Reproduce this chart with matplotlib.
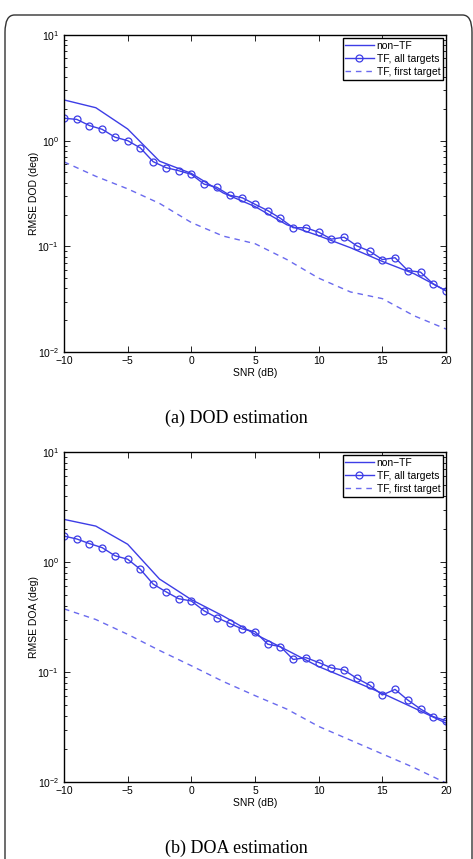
import matplotlib
matplotlib.use("Agg")
import matplotlib.pyplot as plt
from matplotlib.patches import FancyBboxPatch
import matplotlib.ticker as mticker
import numpy as np

plt.rcParams['font.family'] = ['Liberation Sans', 'DejaVu Sans']
plt.rcParams['mathtext.fontset'] = 'custom'
plt.rcParams['mathtext.rm'] = 'Liberation Sans'

# ---- data ----
snr_coarse = [-10, -7.5, -5, -2.5, 0, 2.5, 5, 7.5, 10, 12.5, 15, 17.5, 20]
snr_fine = list(range(-10, 21))

dod_nontf = [2.43, 2.05, 1.29, 0.64, 0.49, 0.32, 0.238, 0.160, 0.126, 0.097, 0.072, 0.055, 0.038]
dod_tf_all = [1.63, 1.59, 1.39, 1.28, 1.08, 1.00, 0.853, 0.633, 0.556, 0.52, 0.48,
              0.388, 0.362, 0.305, 0.288, 0.25, 0.218, 0.184, 0.150, 0.150, 0.136,
              0.117, 0.122, 0.101, 0.090, 0.075, 0.078, 0.059, 0.057, 0.044, 0.038]
dod_tf_first = [0.63, 0.46, 0.35, 0.255, 0.168, 0.125, 0.106, 0.075, 0.050, 0.037, 0.032, 0.022, 0.0165]

doa_nontf = [2.44, 2.12, 1.45, 0.70, 0.455, 0.323, 0.221, 0.158, 0.112, 0.085, 0.064, 0.047, 0.0343]
doa_tf_all = [1.72, 1.62, 1.47, 1.35, 1.14, 1.06, 0.857, 0.63, 0.537, 0.464, 0.442,
              0.36, 0.312, 0.277, 0.246, 0.233, 0.179, 0.170, 0.130, 0.135, 0.122,
              0.109, 0.104, 0.0875, 0.076, 0.0618, 0.0695, 0.0556, 0.0461, 0.0393, 0.0361]
doa_tf_first = [0.375, 0.30, 0.22, 0.157, 0.114, 0.082, 0.061, 0.046, 0.032, 0.024, 0.018, 0.0135, 0.0098]

xticks = [-10, -5, 0, 5, 10, 15, 20]
labels = ['non\u2212TF', 'TF, all targets', 'TF, first target']
ylabels = ['RMSE DOD (deg)', 'RMSE DOA (deg)']
captions = ['(a) DOD estimation', '(b) DOA estimation']

solid_c = '#3d3de6'
dash_c = '#6a6aee'

fig = plt.figure(figsize=(4.73, 8.59), dpi=100)

# rounded border
border = FancyBboxPatch((5/473, -0.05), (472-5)/473, 1.05 - 15/859,
                        boxstyle='round,pad=0,rounding_size=0.02',
                        transform=fig.transFigure, fill=False,
                        edgecolor='#333333', linewidth=1.0, clip_on=False)
fig.patches.append(border)

axes_pos = [[64/473, 1-352/859, (446-64)/473, (352-35)/859],
            [64/473, 1-782/859, (446-64)/473, (782-452)/859]]
caption_y = [1-418/859, 1-848/859]
datasets = [(dod_nontf, dod_tf_all, dod_tf_first), (doa_nontf, doa_tf_all, doa_tf_first)]

for i in range(2):
    ax = fig.add_axes(axes_pos[i])
    nontf, tfall, tffirst = datasets[i]
    ax.semilogy(snr_coarse, nontf, '-', color=solid_c, lw=1.0, label=labels[0])
    ax.semilogy(snr_fine, tfall, '-o', color=solid_c, lw=1.0, markersize=5,
                markerfacecolor='none', markeredgewidth=0.9, label=labels[1])
    ax.semilogy(snr_coarse, tffirst, '--', color=dash_c, lw=1.0, dashes=(4, 3.5), label=labels[2])
    ax.set_xlim(-10, 20)
    ax.set_ylim(1e-2, 1e1)
    ax.set_xticks(xticks)
    ax.set_xticklabels([str(t).replace('-', '\u2212') for t in xticks])
    ax.yaxis.set_major_locator(mticker.LogLocator(base=10, numticks=10))
    ax.yaxis.set_minor_locator(mticker.LogLocator(base=10, subs=np.arange(2, 10), numticks=20))
    ax.yaxis.set_minor_formatter(mticker.NullFormatter())
    ax.tick_params(which='both', direction='in', top=True, right=True, labelsize=7.5,
                   color='black', width=0.6)
    ax.tick_params(which='major', length=4)
    ax.tick_params(which='minor', length=2)
    ax.tick_params(axis='x', which='major', pad=3)
    for s in ax.spines.values():
        s.set_linewidth(1.0)
    ax.set_xlabel('SNR (dB)', fontsize=7.5, labelpad=1)
    ax.set_ylabel(ylabels[i], fontsize=7.5, labelpad=-1)
    leg = ax.legend(loc='upper right', fontsize=7.5, fancybox=False, framealpha=1,
                    edgecolor='black', handlelength=2.7, borderpad=0.25,
                    labelspacing=0.3, handletextpad=0.3, borderaxespad=0.3)
    leg.get_frame().set_linewidth(1.0)
    fig.text(0.5, caption_y[i], captions[i], ha='center', va='center',
             fontsize=13, family='Liberation Serif')

fig.savefig('out.png', dpi=100)
